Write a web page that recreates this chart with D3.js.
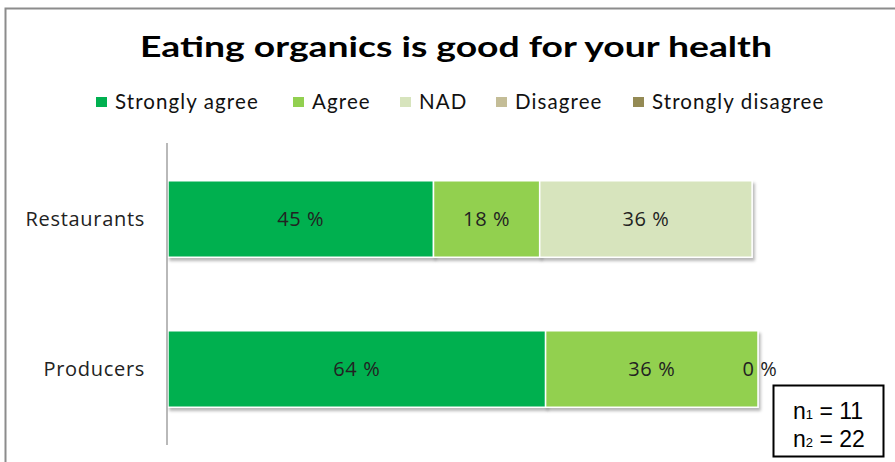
<!DOCTYPE html>
<html>
<head>
<meta charset="utf-8">
<script src="https://cdn.jsdelivr.net/npm/d3@7"></script>
<style>
  html, body { margin: 0; padding: 0; background: #fff; }
  svg { display: block; }
</style>
</head>
<body>
<svg id="chart" width="895" height="462"></svg>
<script>
// Survey answers, in percent of respondents
const categories = ["Restaurants", "Producers"];
const seriesNames = ["Strongly agree", "Agree", "NAD", "Disagree", "Strongly disagree"];
const stronglyAgree = [45, 64];
const agree = [18, 36];
const nad = [36, 0];
const disagree = [0, 0];
const stronglyDisagree = [0, 0];
const labelledSeries = ["Strongly agree", "Agree", "NAD"];
const sampleSizes = [["1", "11"], ["2", "22"]];
const titleText = "Eating organics is good for your health";

const colors = ["#00B050", "#92D050", "#D7E4BD", "#C4BD97", "#948A54"];
const fontTitle = "Lato, 'Open Sans', sans-serif";
const fontLegend = "Lato, 'Open Sans', sans-serif";
const fontBody = "'Open Sans', 'DejaVu Sans', sans-serif";

const rows = categories.map((c, i) => ({
  category: c,
  "Strongly agree": stronglyAgree[i],
  "Agree": agree[i],
  "NAD": nad[i],
  "Disagree": disagree[i],
  "Strongly disagree": stronglyDisagree[i]
}));

const svg = d3.select("#chart");

// drop shadow for the bars
const defs = svg.append("defs");
const f = defs.append("filter").attr("id", "shadow")
  .attr("x", "-5%").attr("y", "-10%").attr("width", "115%").attr("height", "130%");
f.append("feDropShadow").attr("dx", 2).attr("dy", 3).attr("stdDeviation", 1.6)
  .attr("flood-color", "#000").attr("flood-opacity", 0.28);

// outer chart frame
svg.append("rect")
  .attr("x", 5.5).attr("y", 8.5).attr("width", 960).attr("height", 500)
  .attr("fill", "#fff").attr("stroke", "#8c8c8c").attr("stroke-width", 2);

// title
svg.append("text")
  .attr("x", 456).attr("y", 57)
  .attr("text-anchor", "middle")
  .attr("font-family", fontTitle)
  .attr("font-weight", "bold")
  .attr("font-size", 29)
  .attr("fill", "#000")
  .attr("textLength", 632)
  .attr("lengthAdjust", "spacingAndGlyphs")
  .text(titleText);

// legend
const legendX = [96, 293, 400, 496, 633];
const legend = svg.append("g").selectAll("g")
  .data(seriesNames).join("g")
  .attr("transform", (d, i) => `translate(${legendX[i]},102)`);
legend.append("rect")
  .attr("x", 0).attr("y", -5).attr("width", 11).attr("height", 10)
  .attr("fill", (d, i) => colors[i]);
legend.append("text")
  .attr("x", 19).attr("y", 6.5)
  .attr("font-family", fontLegend)
  .attr("font-size", 20.5)
  .attr("letter-spacing", 1.1)
  .attr("fill", "#111")
  .text(d => d);

// scales
const x = d3.scaleLinear().domain([0, 100]).range([168, 758]);
const y = d3.scaleBand().domain(categories).range([144, 444])
  .paddingInner(0.49).paddingOuter(0.245);

const stack = d3.stack().keys(seriesNames);
const layers = stack(rows);

// bars
const gBars = svg.append("g");
layers.forEach((layer, li) => {
  gBars.append("g")
    .attr("filter", "url(#shadow)")
    .selectAll("rect")
    .data(layer.filter(d => d[1] - d[0] > 0))
    .join("rect")
    .attr("x", d => x(d[0]))
    .attr("y", d => y(d.data.category))
    .attr("width", d => x(d[1]) - x(d[0]))
    .attr("height", y.bandwidth())
    .attr("fill", colors[li])
    .attr("stroke", "#fff")
    .attr("stroke-width", 1.5);
});

// value labels
layers.forEach((layer, li) => {
  if (!labelledSeries.includes(layer.key)) return;
  gBars.append("g").selectAll("text")
    .data(layer)
    .join("text")
    .attr("x", d => (x(d[0]) + x(d[1])) / 2 + (d[1] - d[0] === 0 ? 2 : 0))
    .attr("y", d => y(d.data.category) + y.bandwidth() / 2 + 7)
    .attr("text-anchor", "middle")
    .attr("font-family", fontBody)
    .attr("font-size", 20)
    .attr("letter-spacing", 0.6)
    .attr("fill", "#222")
    .text(d => `${d[1] - d[0]} %`);
});

// category axis
const axis = svg.append("g")
  .attr("transform", "translate(167,0)")
  .call(d3.axisLeft(y).tickSize(0).tickPadding(22));
axis.select(".domain").remove();
axis.append("line")
  .attr("x1", 0).attr("x2", 0).attr("y1", 143).attr("y2", 445)
  .attr("stroke", "#8a8a8a").attr("stroke-width", 1.2);
axis.selectAll(".tick text")
  .attr("font-family", fontBody)
  .attr("font-size", 20)
  .attr("letter-spacing", 0.7)
  .attr("fill", "#222")
  .attr("dy", "0.35em");

// sample size box
const nBox = svg.append("g").attr("transform", "translate(773,385)");
nBox.append("rect")
  .attr("x", 0.5).attr("y", 0.5).attr("width", 110).attr("height", 71)
  .attr("fill", "#fff").attr("stroke", "#000").attr("stroke-width", 2);
sampleSizes.forEach((s, i) => {
  const t = nBox.append("text")
    .attr("x", 20).attr("y", 34 + i * 28)
    .attr("font-family", "'Liberation Sans', Arial, sans-serif")
    .attr("font-size", 23)
    .attr("fill", "#000");
  t.append("tspan").text("n");
  t.append("tspan").attr("font-size", 13).text(s[0]);
  t.append("tspan").text(` = ${s[1]}`);
});
</script>
</body>
</html>
